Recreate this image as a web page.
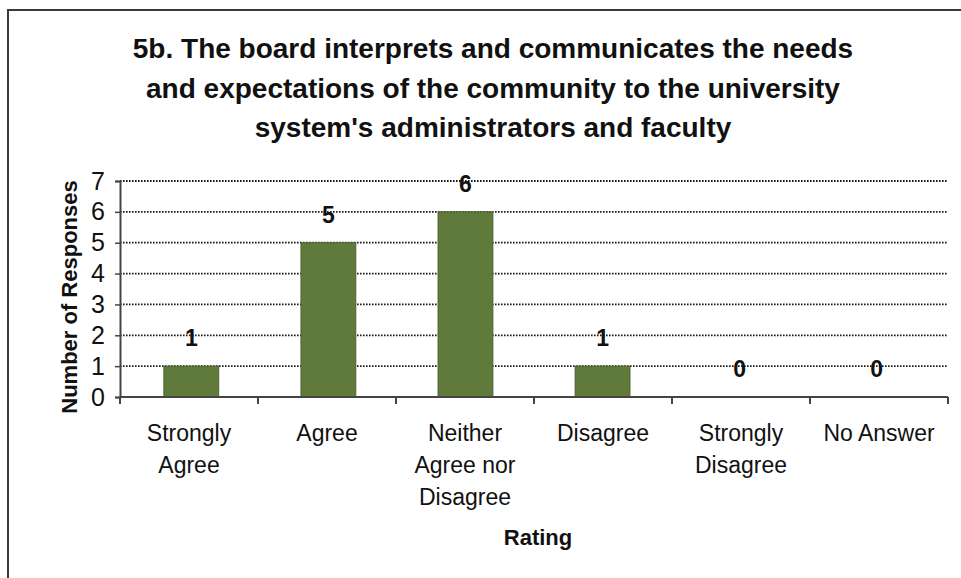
<!DOCTYPE html>
<html lang="en">
  <head>
    <meta charset="UTF-8" />
    <title>5b. Board interprets and communicates</title>
    <script src="https://d3js.org/d3.v7.min.js"></script>
    <style>
      body {
        margin: 0;
        background: #fff;
      }
      text {
        fill: #111;
      }
      .grid line {
        stroke: #1a1a1a;
        stroke-width: 1.8;
        stroke-dasharray: 1.6 1.4;
      }
      .bar {
        fill: #5f7a3a;
        stroke: #4c6330;
        stroke-width: 1;
      }
    </style>
  </head>
  <body>
    <div id="chart"></div>
    <script>
      const categories = [
        "Strongly Agree",
        "Agree",
        "Neither Agree nor Disagree",
        "Disagree",
        "Strongly Disagree",
        "No Answer",
      ];
      // category labels as broken over lines in the picture
      const categoryLines = [
        ["Strongly", "Agree"],
        ["Agree"],
        ["Neither", "Agree nor", "Disagree"],
        ["Disagree"],
        ["Strongly", "Disagree"],
        ["No Answer"],
      ];
      const responses = [1, 5, 6, 1, 0, 0];
      const yTicks = [0, 1, 2, 3, 4, 5, 6, 7];
      const titleLines = [
        "5b. The board interprets and communicates the needs",
        "and expectations of the community to the university",
        "system's administrators and faculty",
      ];

      const width = 961,
        height = 578;
      const margin = { top: 181, left: 120, right: 13, bottom: 181 };
      const font = "'Liberation Sans', Arial, sans-serif";

      const svg = d3
        .select("#chart")
        .append("svg")
        .attr("width", width)
        .attr("height", height)
        .style("font-family", font);

      // frame
      svg
        .append("path")
        .attr("d", "M8,578 V10 H961")
        .attr("fill", "none")
        .attr("stroke", "#3a3a3a")
        .attr("stroke-width", 2);

      const x = d3
        .scaleBand()
        .domain(categories)
        .range([margin.left, width - margin.right])
        .paddingInner(0.6)
        .paddingOuter(0.32);

      const y = d3
        .scaleLinear()
        .domain([0, 7])
        .range([height - margin.bottom, margin.top]);

      // title
      svg
        .append("g")
        .selectAll("text")
        .data(titleLines)
        .join("text")
        .attr("x", 493)
        .attr("y", (d, i) => 58 + i * 39.5)
        .attr("text-anchor", "middle")
        .attr("font-size", 28)
        .attr("font-weight", "bold")
        .text((d) => d);

      // gridlines
      svg
        .append("g")
        .attr("class", "grid")
        .selectAll("line")
        .data(yTicks.filter((d) => d > 0))
        .join("line")
        .attr("x1", margin.left)
        .attr("x2", width - margin.right)
        .attr("y1", (d) => y(d))
        .attr("y2", (d) => y(d));

      // bars
      svg
        .append("g")
        .selectAll("rect")
        .data(responses)
        .join("rect")
        .attr("class", "bar")
        .attr("x", (d, i) => x(categories[i]))
        .attr("width", x.bandwidth())
        .attr("y", (d) => y(d))
        .attr("height", (d) => y(0) - y(d));

      // value labels
      svg
        .append("g")
        .selectAll("text")
        .data(responses)
        .join("text")
        .attr("x", (d, i) => x(categories[i]) + x.bandwidth() / 2)
        .attr("y", (d) => y(d) - 20)
        .attr("text-anchor", "middle")
        .attr("font-size", 23)
        .attr("font-weight", "bold")
        .attr("fill", "#222")
        .text((d) => d);

      // y axis
      const yAxis = svg
        .append("g")
        .attr("transform", `translate(${margin.left},0)`)
        .call(
          d3
            .axisLeft(y)
            .tickValues(yTicks)
            .tickFormat(d3.format("d"))
            .tickSize(5)
            .tickPadding(10)
        );
      yAxis.select(".domain").attr("stroke", "#444").attr("stroke-width", 2);
      yAxis.selectAll(".tick line").attr("stroke", "#444").attr("stroke-width", 1.5);
      yAxis
        .selectAll(".tick text")
        .attr("font-size", 25)
        .attr("font-family", font)
        .attr("fill", "#111");

      // x axis with ticks between categories
      const bandStep = (width - margin.right - margin.left) / categories.length;
      const xAxis = svg
        .append("g")
        .attr("transform", `translate(0,${y(0)})`);
      xAxis
        .append("line")
        .attr("x1", margin.left)
        .attr("x2", width - margin.right)
        .attr("stroke", "#444")
        .attr("stroke-width", 2);
      xAxis
        .selectAll(".xtick")
        .data(d3.range(categories.length + 1))
        .join("line")
        .attr("class", "xtick")
        .attr("x1", (i) => margin.left + i * bandStep)
        .attr("x2", (i) => margin.left + i * bandStep)
        .attr("y1", 0)
        .attr("y2", 7)
        .attr("stroke", "#444")
        .attr("stroke-width", 2);

      // category labels
      const catLabels = svg
        .append("g")
        .selectAll("text")
        .data(categoryLines)
        .join("text")
        .attr("text-anchor", "middle")
        .attr("font-size", 23)
        .attr("x", (d, i) => margin.left + (i + 0.5) * bandStep);
      catLabels
        .selectAll("tspan")
        .data((d, i) => d.map((t) => ({ t, i })))
        .join("tspan")
        .attr("x", (d) => margin.left + (d.i + 0.5) * bandStep)
        .attr("y", (d, j) => 441 + j * 32)
        .text((d) => d.t);

      // axis titles
      svg
        .append("text")
        .attr("x", margin.left + 3 * bandStep + 4)
        .attr("y", 545)
        .attr("text-anchor", "middle")
        .attr("font-size", 22)
        .attr("font-weight", "bold")
        .text("Rating");

      svg
        .append("text")
        .attr("transform", `translate(77,${y(3.5) + 8}) rotate(-90)`)
        .attr("text-anchor", "middle")
        .attr("font-size", 22)
        .attr("font-weight", "bold")
        .text("Number of Responses");
    </script>
  </body>
</html>
